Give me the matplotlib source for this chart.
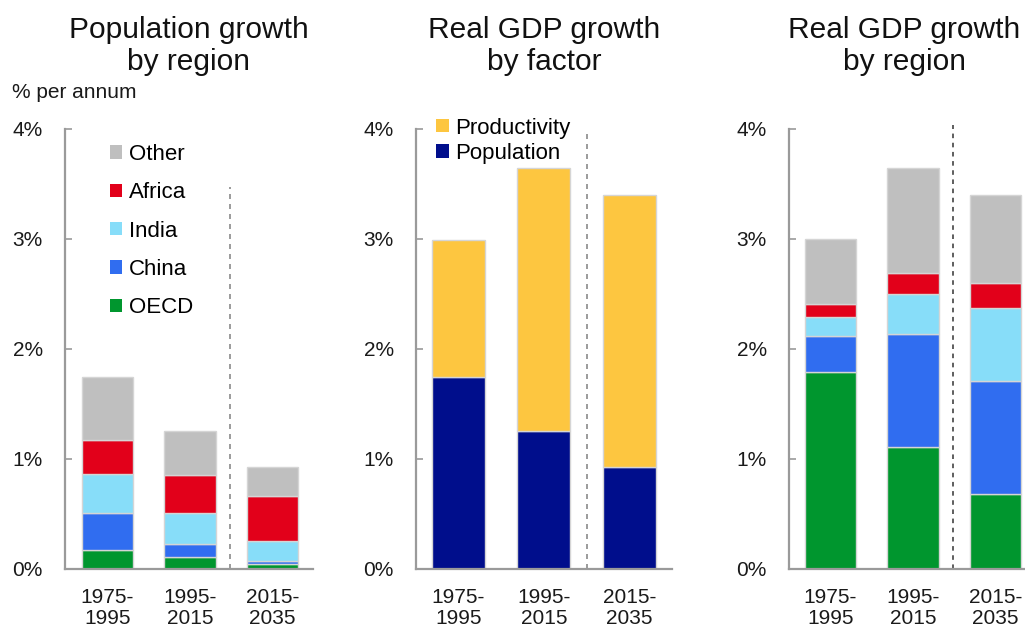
import matplotlib
matplotlib.use("Agg")
import matplotlib.pyplot as plt
import numpy as np
from matplotlib.patches import Patch

plt.rcParams['font.family'] = ['Liberation Sans', 'DejaVu Sans']

periods = ["1975-\n1995", "1995-\n2015", "2015-\n2035"]
regions = ["OECD", "China", "India", "Africa", "Other"]

# Population growth by region (% per annum)
pop_oecd = [0.17, 0.11, 0.045]
pop_china = [0.34, 0.12, 0.025]
pop_india = [0.35, 0.28, 0.18]
pop_africa = [0.31, 0.34, 0.41]
pop_other = [0.57, 0.40, 0.27]

# Real GDP growth by factor
gdp_population = [1.74, 1.25, 0.93]
gdp_productivity = [1.25, 2.39, 2.47]

# Real GDP growth by region
gdp_oecd = [1.79, 1.11, 0.68]
gdp_china = [0.33, 1.02, 1.03]
gdp_india = [0.17, 0.37, 0.66]
gdp_africa = [0.12, 0.19, 0.23]
gdp_other = [0.59, 0.95, 0.80]

yticks = [0, 1, 2, 3, 4]
ytick_labels = ["0%", "1%", "2%", "3%", "4%"]

region_colors = ["#00962E", "#306DF0", "#87DDF9", "#E2001A", "#BFBFBF"]
factor_colors = {"Productivity": "#FDC640", "Population": "#000E8C"}
spine_col = "#9A9A9A"
edge_col = "#D5D5D5"

fig = plt.figure(figsize=(10.25, 6.3), dpi=100)
W, H = 1025, 630
y0 = 569
ytop = 128.5
bottom = 1 - y0 / H
height = (y0 - ytop) / H


def make_ax(left_px, xl, xr, px_per_unit):
    width = (xr - xl) * px_per_unit / W
    ax = fig.add_axes([left_px / W, bottom, width, height])
    ax.set_xlim(xl, xr)
    ax.set_ylim(0, 4)
    for s in ["top", "right"]:
        ax.spines[s].set_visible(False)
    for s in ["left", "bottom"]:
        ax.spines[s].set_color(spine_col)
        ax.spines[s].set_linewidth(1.6)
    ax.set_yticks(yticks)
    ax.set_yticklabels(ytick_labels)
    ax.tick_params(axis="y", direction="in", length=5, width=1.2,
                   color=spine_col, pad=16, labelsize=15, labelcolor="#1a1a1a")
    ax.set_xticks(range(len(periods)))
    ax.set_xticklabels(periods, fontsize=15, linespacing=1.12, color="#1a1a1a")
    ax.tick_params(axis="x", length=0, pad=14)
    return ax


def title(ax, text, **kw):
    ax.set_title(text, fontsize=21.5, linespacing=1.2, pad=42, color="#111111", **kw)


x = np.arange(len(periods))
bw = 0.62

# Panel 1
ax1 = make_ax(65, -0.515, 2.49, 82.5)
series1 = [pop_oecd, pop_china, pop_india, pop_africa, pop_other]
base = np.zeros(3)
for vals, c in zip(series1, region_colors):
    ax1.bar(x, vals, bw, bottom=base, color=c, edgecolor=edge_col, linewidth=1)
    base += np.array(vals)
ax1.plot([1.485, 1.485], [0, 3.47], ls=(0, (3, 3)), color="#8a8a8a", lw=1.2)
handles = [Patch(facecolor=c, edgecolor="none") for c in region_colors[::-1]]
ax1.legend(handles, regions[::-1], loc="upper left", bbox_to_anchor=(0.145, 0.985),
           frameon=False, fontsize=16, handlelength=0.55, handleheight=0.55,
           handletextpad=0.3, labelspacing=0.78, borderaxespad=0)
title(ax1, "Population growth\nby region")
fig.text(12 / W, 1 - 93 / H, "% per annum", fontsize=15, va="center", ha="left",
         color="#1a1a1a")

# Panel 2
ax2 = make_ax(416, -0.497, 2.50, 85.5)
ax2.bar(x, gdp_population, bw, color=factor_colors["Population"], edgecolor=edge_col, linewidth=1)
ax2.bar(x, gdp_productivity, bw, bottom=gdp_population, color=factor_colors["Productivity"],
        edgecolor=edge_col, linewidth=1)
ax2.plot([1.50, 1.50], [0, 3.97], ls=(0, (3, 3)), color="#8a8a8a", lw=1.2)
handles2 = [Patch(facecolor=factor_colors[k], edgecolor="none") for k in ["Productivity", "Population"]]
ax2.legend(handles2, ["Productivity", "Population"], loc="upper left", bbox_to_anchor=(0.045, 1.045),
           frameon=False, fontsize=16, handlelength=0.55, handleheight=0.55,
           handletextpad=0.3, labelspacing=0.2, borderaxespad=0)
title(ax2, "Real GDP growth\nby factor")

# Panel 3
ax3 = make_ax(789, -0.503, 2.52, 82.5)
series3 = [gdp_oecd, gdp_china, gdp_india, gdp_africa, gdp_other]
base = np.zeros(3)
for vals, c in zip(series3, region_colors):
    ax3.bar(x, vals, bw, bottom=base, color=c, edgecolor=edge_col, linewidth=1)
    base += np.array(vals)
ax3.plot([1.485, 1.485], [0, 4.03], ls=(0, (3, 3)), color="#333333", lw=1.1, clip_on=False)
title(ax3, "Real GDP growth\nby region", x=(904 - 789) / 249)

fig.savefig("out.png", dpi=100)
